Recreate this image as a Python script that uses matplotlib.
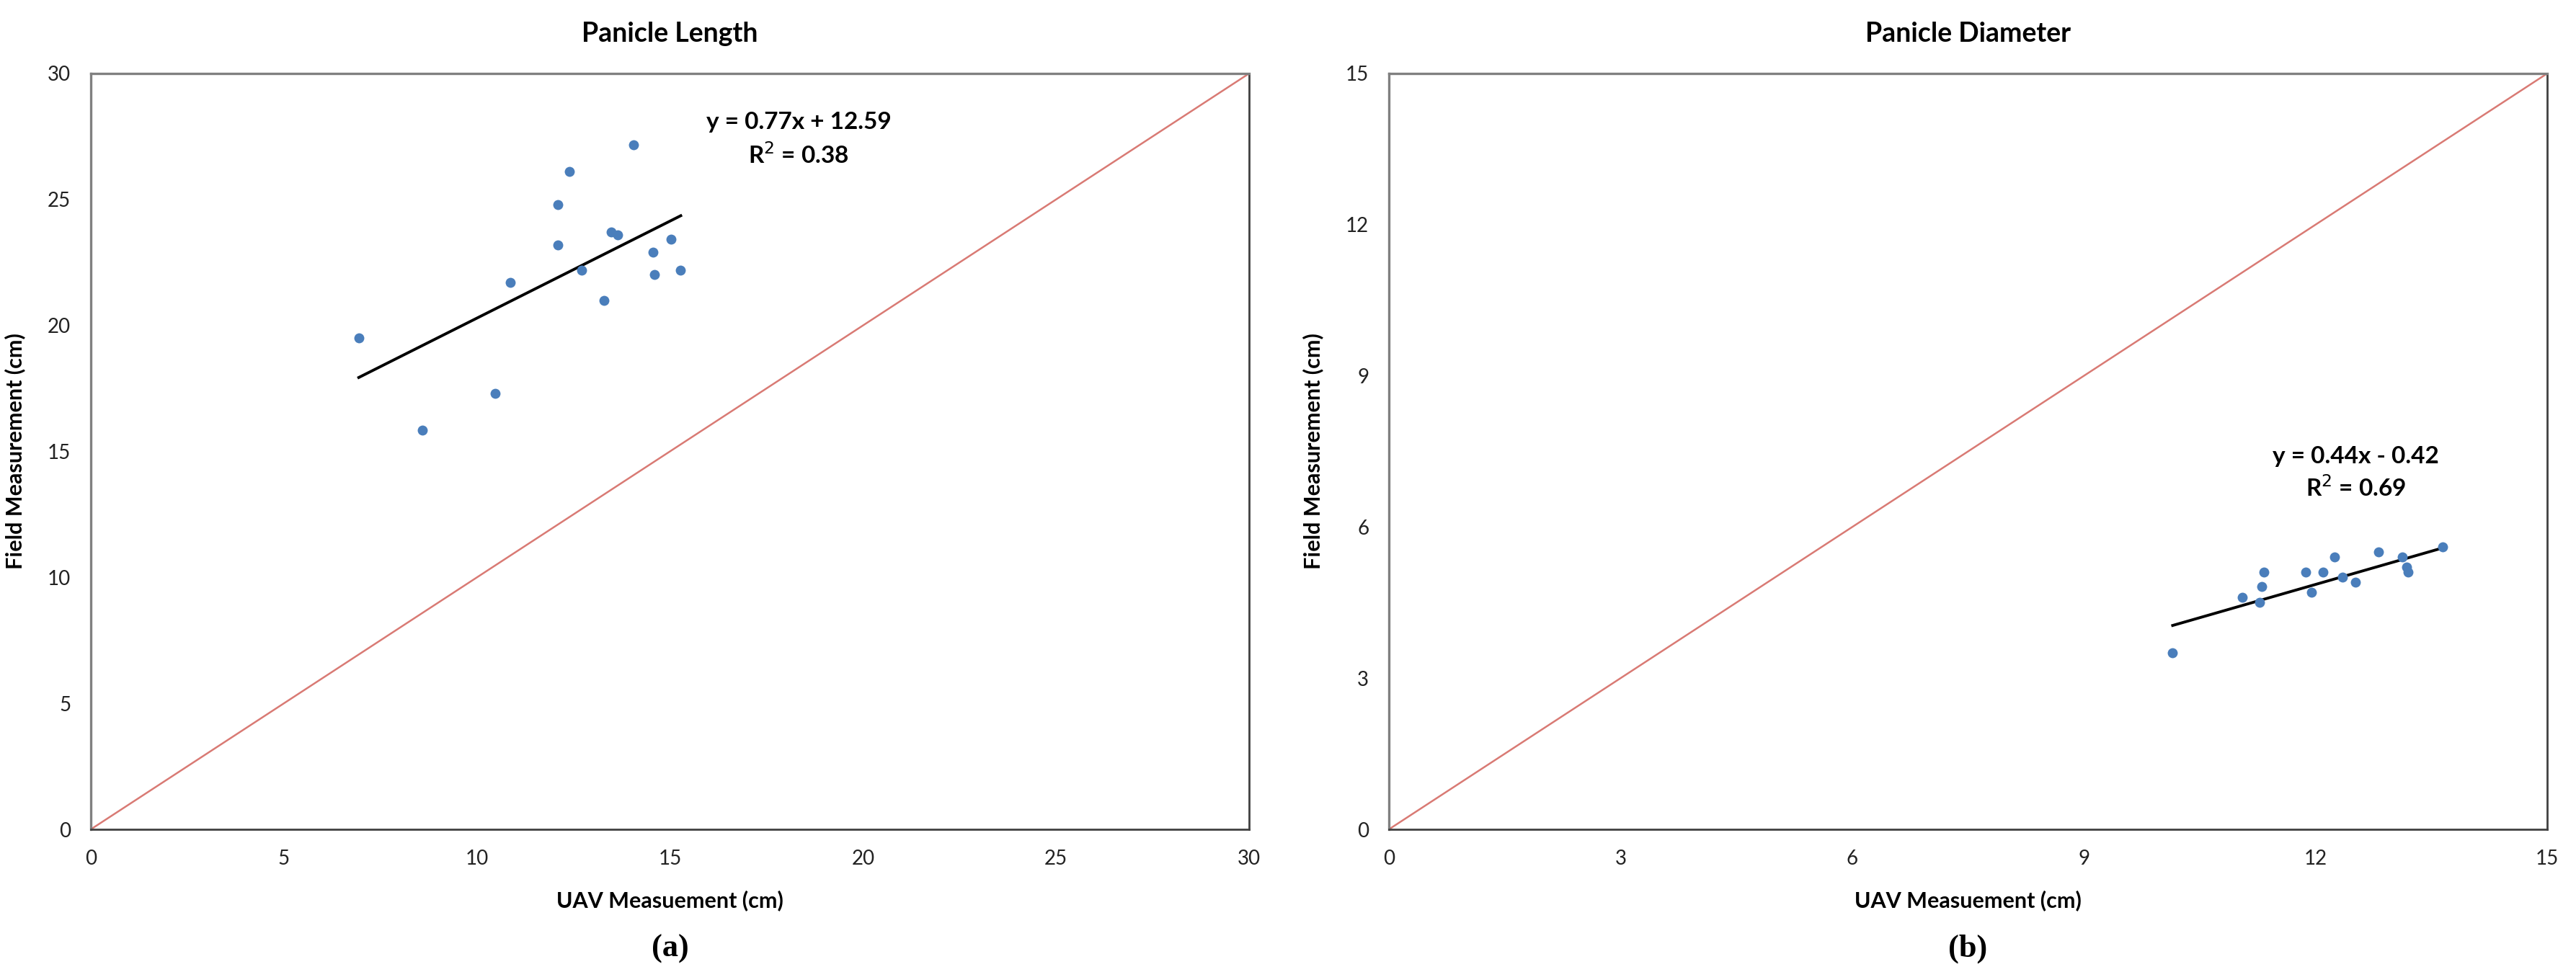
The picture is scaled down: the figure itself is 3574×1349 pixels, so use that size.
import matplotlib
matplotlib.use("Agg")
import matplotlib.pyplot as plt
import numpy as np

plt.rcParams["font.family"] = ["Liberation Sans Narrow", "Lato", "DejaVu Sans"]

# panel (a): panicle length
length_uav = [6.94, 8.59, 10.48, 10.87, 12.09, 12.09, 12.40, 12.71,
              13.30, 13.48, 13.65, 14.06, 14.57, 14.60, 15.02, 15.28]
length_field = [19.50, 15.85, 17.31, 21.72, 23.20, 24.79, 26.10, 22.18,
                21.00, 23.72, 23.60, 27.18, 22.92, 22.02, 23.42, 22.18]
length_fit = (0.77, 12.59)
length_eq = ["y = 0.77x + 12.59", "R$^2$ = 0.38"]

# panel (b): panicle diameter
diam_uav = [10.15, 11.05, 11.28, 11.30, 11.33, 11.87, 11.95, 12.10,
            12.25, 12.35, 12.52, 12.82, 13.12, 13.18, 13.20, 13.65]
diam_field = [3.51, 4.60, 4.50, 4.82, 5.10, 5.10, 4.70, 5.10,
              5.40, 5.00, 4.90, 5.50, 5.40, 5.20, 5.10, 5.60]
diam_fit = (0.44, -0.42)
diam_eq = ["y = 0.44x - 0.42", "R$^2$ = 0.69"]

PANELS = [
    ("Panicle Length", length_uav, length_field, length_fit, length_eq,
     30, [0, 5, 10, 15, 20, 25, 30], (0.611, 0.936, 0.893), "(a)"),
    ("Panicle Diameter", diam_uav, diam_field, diam_fit, diam_eq,
     15, [0, 3, 6, 9, 12, 15], (0.835, 0.493, 0.452), "(b)"),
]

W, H = 3574, 1349
fig = plt.figure(figsize=(W / 100, H / 100), dpi=100)
lefts = [126 / W, 1927 / W]

for left, (title, xs, ys, fit, eq, lim, ticks, eqpos, tag) in zip(lefts, PANELS):
    ax = fig.add_axes([left, 198 / H, 1607 / W, 1049 / H])
    ax.plot([0, lim], [0, lim], color="#d97a74", lw=1.8, zorder=1)
    ax.scatter(xs, ys, s=100, color="#4a7ebb", zorder=3, linewidths=0)
    xf = np.array([min(xs), max(xs)])
    ax.plot(xf, fit[0] * xf + fit[1], color="black", lw=2.8, zorder=2)

    ax.set_xlim(0, lim)
    ax.set_ylim(0, lim)
    ax.set_xticks(ticks)
    ax.set_yticks(ticks)
    ax.tick_params(length=0, pad=20, labelsize=20, colors="#222222")
    for side in ("top", "left"):
        ax.spines[side].set_color("#808080")
        ax.spines[side].set_linewidth(2.4)
    for side in ("bottom", "right"):
        ax.spines[side].set_color("#404040")
        ax.spines[side].set_linewidth(2.0)

    ax.set_title(title, fontsize=27, fontweight="bold", pad=32)
    ax.set_xlabel("UAV Measuement (cm)", fontsize=22, fontweight="bold",
                  labelpad=22)
    ax.set_ylabel("Field Measurement (cm)", fontsize=22, fontweight="bold",
                  labelpad=22)

    ex, ey1, ey2 = eqpos
    ax.text(ex, ey1, eq[0], transform=ax.transAxes, ha="center", va="center",
            fontsize=24, fontweight="bold")
    ax.text(ex, ey2, eq[1], transform=ax.transAxes, ha="center", va="center",
            fontsize=24, fontweight="bold")

    cx = left + 0.5 * 1607 / W
    fig.text(cx, 1 - 1317 / H, tag, ha="center", va="center", fontsize=32,
             fontweight="bold", family=["Liberation Serif", "DejaVu Serif"])

fig.savefig("out.png", dpi=100, facecolor="white")
